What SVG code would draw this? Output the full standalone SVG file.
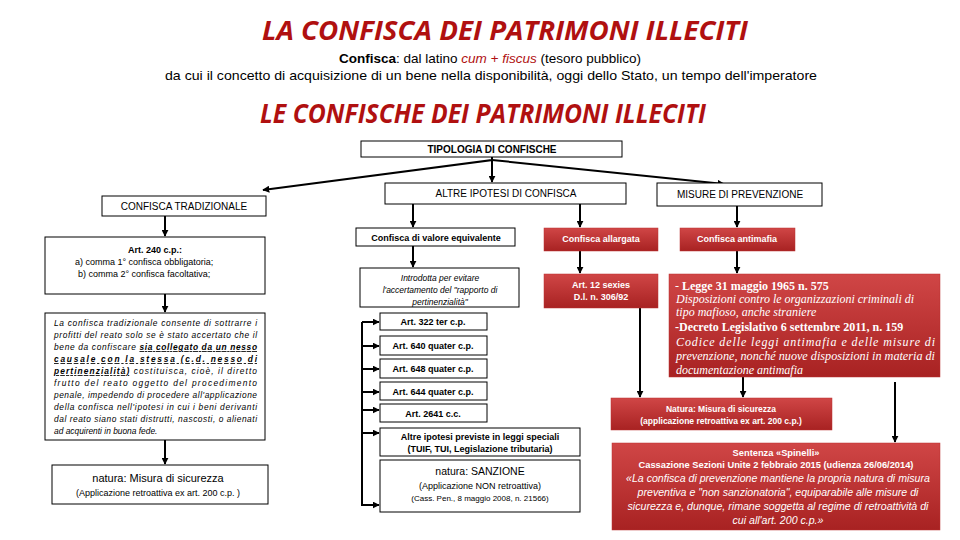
<svg xmlns="http://www.w3.org/2000/svg" width="960" height="540" viewBox="0 0 960 540">
<defs>
<linearGradient id="rg" x1="0" y1="0" x2="0" y2="1"><stop offset="0" stop-color="#d04646"/><stop offset="1" stop-color="#a82222"/></linearGradient>
<marker id="ah" viewBox="0 0 10 10" refX="9" refY="5" markerWidth="3.5" markerHeight="3.5" orient="auto"><path d="M0,0L10,5L0,10z" fill="#000"/></marker>
</defs>
<style>
.t{font-family:"Liberation Sans",Arial,sans-serif;fill:#000}
.b{font-weight:bold}
.w{fill:#fff}
.box{fill:#fff;stroke:#000;stroke-width:1}
.red{fill:url(#rg);stroke:#b33;stroke-width:0.5}
.ttl{font-family:"Open Sans","Liberation Sans",sans-serif;font-weight:bold;font-style:italic;fill:#b01010;font-size:27px}
.c line,.c path{stroke:#000;stroke-width:2;fill:none}
.ser{font-family:"Liberation Serif","Times New Roman",serif}
.it{font-style:italic}
</style>
<rect width="960" height="540" fill="#fff"/>
<text class="ttl" x="505" y="40" text-anchor="middle" textLength="486" lengthAdjust="spacingAndGlyphs">LA CONFISCA DEI PATRIMONI ILLECITI</text>
<text class="t" x="490" y="63" text-anchor="middle" font-size="13.5"><tspan class="b">Confisca</tspan>: dal latino <tspan fill="#b01010" font-style="italic">cum + fiscus</tspan> (tesoro pubblico)</text>
<text class="t" x="491" y="80" text-anchor="middle" font-size="13.5" textLength="652" lengthAdjust="spacingAndGlyphs">da cui il concetto di acquisizione di un bene nella disponibilità, oggi dello Stato, un tempo dell'imperatore</text>
<text class="ttl" x="483" y="123" text-anchor="middle" textLength="446" lengthAdjust="spacingAndGlyphs">LE CONFISCHE DEI PATRIMONI ILLECITI</text>

<g class="c">
<path d="M492,157 V160 L263,190" marker-end="url(#ah)"/>
<line x1="492" y1="160" x2="492" y2="182" marker-end="url(#ah)"/>
<line x1="492" y1="160" x2="724" y2="184" marker-end="url(#ah)"/>
<line x1="165" y1="216" x2="165" y2="236" marker-end="url(#ah)"/>
<line x1="165" y1="294" x2="165" y2="312" marker-end="url(#ah)"/>
<line x1="165" y1="440" x2="165" y2="464" marker-end="url(#ah)"/>
<line x1="413" y1="204" x2="413" y2="227" marker-end="url(#ah)"/>
<line x1="413" y1="246" x2="413" y2="267" marker-end="url(#ah)"/>
<line x1="580" y1="204" x2="580" y2="227" marker-end="url(#ah)"/>
<line x1="580" y1="251" x2="580" y2="273" marker-end="url(#ah)"/>
<line x1="737" y1="206" x2="737" y2="227" marker-end="url(#ah)"/>
<line x1="737" y1="251" x2="737" y2="273" marker-end="url(#ah)"/>
<line x1="640" y1="308" x2="640" y2="397" marker-end="url(#ah)"/>
<line x1="743" y1="377" x2="743" y2="397" marker-end="url(#ah)"/>
<line x1="895" y1="382" x2="895" y2="442" marker-end="url(#ah)"/>
<line x1="362" y1="322" x2="362" y2="506" stroke-width="1.2"/>
<line x1="362" y1="322" x2="379" y2="322" marker-end="url(#ah)"/>
<line x1="362" y1="346" x2="379" y2="346" marker-end="url(#ah)"/>
<line x1="362" y1="369" x2="379" y2="369" marker-end="url(#ah)"/>
<line x1="362" y1="392" x2="379" y2="392" marker-end="url(#ah)"/>
<line x1="362" y1="410" x2="379" y2="410" marker-end="url(#ah)"/>
<line x1="362" y1="433" x2="379" y2="433" marker-end="url(#ah)"/>
<line x1="362" y1="505" x2="379" y2="505" marker-end="url(#ah)"/>
</g>

<g id="tipologia"><rect class="box" x="361" y="141" width="261" height="16"/><text class="t b" x="492" y="153" text-anchor="middle" font-size="10">TIPOLOGIA DI CONFISCHE</text></g>
<g id="tradizionale"><rect class="box" x="102" y="196" width="164" height="20"/><text class="t" x="184" y="210" text-anchor="middle" font-size="10">CONFISCA TRADIZIONALE</text></g>
<g id="altre"><rect class="box" x="385" y="183" width="241" height="21"/><text class="t" x="506" y="197" text-anchor="middle" font-size="10">ALTRE IPOTESI DI CONFISCA</text></g>
<g id="misure"><rect class="box" x="657" y="183" width="165" height="23"/><text class="t" x="740" y="198" text-anchor="middle" font-size="10">MISURE DI PREVENZIONE</text></g>

<g id="art240"><rect class="box" x="45" y="237" width="220" height="57"/>
<text class="t" font-size="9"><tspan class="b" x="155" y="253" text-anchor="middle">Art. 240 c.p.:</tspan><tspan x="75" y="265">a)    comma 1° confisca obbligatoria;</tspan><tspan x="78" y="277">b)    comma 2° confisca facoltativa;</tspan></text></g>

<g id="tradtesto"><rect class="box" x="45" y="313" width="220" height="127"/>
<text class="t it" font-size="8.4">
<tspan x="54" y="326" textLength="203" lengthAdjust="spacing">La confisca tradizionale consente di sottrarre i</tspan>
<tspan x="54" y="338" textLength="203" lengthAdjust="spacing">profitti del reato solo se è stato accertato che il</tspan>
<tspan x="54" y="350" textLength="203" lengthAdjust="spacing">bene da confiscare <tspan class="b" text-decoration="underline">sia collegato da un nesso</tspan></tspan>
<tspan x="54" y="362" textLength="203" lengthAdjust="spacing" class="b" text-decoration="underline">causale con la stessa (c.d. nesso di</tspan>
<tspan x="54" y="374" textLength="203" lengthAdjust="spacing"><tspan class="b" text-decoration="underline">pertinenzialità)</tspan> costituisca, cioè, il diretto</tspan>
<tspan x="54" y="386" textLength="203" lengthAdjust="spacing">frutto del reato oggetto del procedimento</tspan>
<tspan x="54" y="398" textLength="203" lengthAdjust="spacing">penale, impedendo di procedere all'applicazione</tspan>
<tspan x="54" y="410" textLength="203" lengthAdjust="spacing">della confisca nell'ipotesi in cui i beni derivanti</tspan>
<tspan x="54" y="422" textLength="203" lengthAdjust="spacing">dal reato siano stati distrutti, nascosti, o alienati</tspan>
</text>
<text class="t it" font-size="8.4" x="54" y="434">ad acquirenti in buona fede.</text></g>

<g id="natura1"><rect class="box" x="52" y="465" width="216" height="39"/>
<text class="t" x="158" y="482" text-anchor="middle" font-size="11">natura: Misura di sicurezza</text>
<text class="t" x="158" y="496" text-anchor="middle" font-size="9">(Applicazione retroattiva ex art. 200 c.p. )</text></g>

<g id="valore"><rect class="box" x="356" y="228" width="159" height="18"/><text class="t b" x="436" y="241" text-anchor="middle" font-size="9">Confisca di valore  equivalente</text></g>
<g id="introdotta"><rect class="box" x="360" y="268" width="159" height="39"/>
<text class="t it" font-size="8.5" text-anchor="middle"><tspan x="440" y="281">Introdotta per  evitare</tspan><tspan x="440" y="293">l'accertamento del "rapporto di</tspan><tspan x="440" y="305">pertinenzialità"</tspan></text></g>

<g id="a322"><rect class="box" x="380" y="313" width="107" height="17"/><text class="t b" x="433" y="325" text-anchor="middle" font-size="9">Art. 322  ter c.p.</text></g>
<g id="a640"><rect class="box" x="380" y="336" width="107" height="19"/><text class="t b" x="433" y="349" text-anchor="middle" font-size="9">Art. 640 quater c.p.</text></g>
<g id="a648"><rect class="box" x="380" y="359" width="107" height="19"/><text class="t b" x="433" y="372" text-anchor="middle" font-size="9">Art. 648 quater c.p.</text></g>
<g id="a644"><rect class="box" x="380" y="382" width="107" height="18"/><text class="t b" x="433" y="395" text-anchor="middle" font-size="9">Art. 644 quater c.p.</text></g>
<g id="a2641"><rect class="box" x="380" y="404" width="107" height="18"/><text class="t b" x="433" y="417" text-anchor="middle" font-size="9">Art. 2641 c.c.</text></g>
<g id="altreipotesi"><rect class="box" x="380" y="428" width="200" height="28"/>
<text class="t b" font-size="9" text-anchor="middle"><tspan x="480" y="440">Altre ipotesi previste in leggi speciali</tspan><tspan x="480" y="452">(TUIF, TUI, Legislazione tributaria)</tspan></text></g>
<g id="sanzione"><rect class="box" x="380" y="460" width="200" height="52"/>
<text class="t" text-anchor="middle"><tspan x="480" y="475" font-size="10.5">natura:  SANZIONE</tspan><tspan x="480" y="489" font-size="9">(Applicazione  NON retroattiva)</tspan><tspan x="480" y="501" font-size="8">(Cass. Pen., 8 maggio 2008, n. 21566)</tspan></text></g>

<g id="allargata"><rect class="red" x="544" y="228" width="114" height="23"/><text class="t b w" x="601" y="242" text-anchor="middle" font-size="9">Confisca allargata</text></g>
<g id="antimafia"><rect class="red" x="680" y="228" width="115" height="23"/><text class="t b w" x="737" y="242" text-anchor="middle" font-size="9">Confisca antimafia</text></g>
<g id="art12"><rect class="red" x="544" y="274" width="114" height="34"/>
<text class="t b w" font-size="9" text-anchor="middle"><tspan x="601" y="288">Art. 12 sexies</tspan><tspan x="601" y="300">D.l. n. 306/92</tspan></text></g>
<g id="legge"><rect class="red" x="669" y="274" width="271" height="103"/>
<text class="ser w" font-size="12" x="675" y="290"><tspan font-weight="normal">- </tspan><tspan font-weight="bold">Legge 31 maggio 1965 n. 575</tspan></text>
<text class="ser it w" font-size="12"><tspan x="676" y="303">Disposizioni contro le organizzazioni criminali di</tspan><tspan x="676" y="316">tipo mafioso, anche straniere</tspan></text>
<text class="ser b w" font-size="12" x="675" y="331">-Decreto Legislativo 6 settembre 2011, n. 159</text>
<text class="ser it w" font-size="12"><tspan x="676" y="346" textLength="259" lengthAdjust="spacing">Codice delle leggi antimafia e delle misure di</tspan><tspan x="676" y="360" textLength="259" lengthAdjust="spacingAndGlyphs">prevenzione, nonché nuove disposizioni in materia di</tspan><tspan x="676" y="374">documentazione antimafia</tspan></text></g>
<g id="naturasic"><rect class="red" x="611" y="398" width="221" height="32"/>
<text class="t b w" font-size="8.5" text-anchor="middle"><tspan x="721" y="412">Natura: Misura di sicurezza</tspan><tspan x="721" y="424">(applicazione retroattiva ex art. 200 c.p.)</tspan></text></g>
<g id="spinelli"><rect class="red" x="612" y="443" width="328" height="87"/>
<text class="t b w" font-size="9.3" text-anchor="middle"><tspan x="776" y="456">Sentenza «Spinelli»</tspan><tspan x="776" y="468">Cassazione Sezioni Unite  2 febbraio 2015  (udienza  26/06/2014)</tspan></text>
<text class="t it w" font-size="10.6" text-anchor="middle"><tspan x="778" y="482">«La confisca di prevenzione mantiene la propria natura di misura</tspan><tspan x="778" y="496">preventiva e "non sanzionatoria", equiparabile alle misure di</tspan><tspan x="778" y="510">sicurezza e, dunque, rimane soggetta al regime di retroattività di</tspan><tspan x="778" y="524">cui all'art. 200 c.p.»</tspan></text></g>
</svg>
